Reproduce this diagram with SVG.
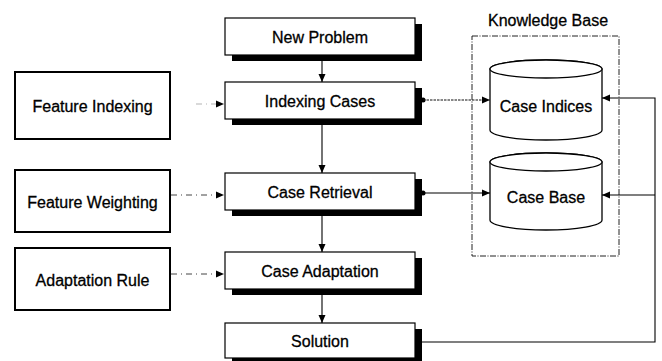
<svg xmlns="http://www.w3.org/2000/svg" width="662" height="361" viewBox="0 0 662 361">
<defs>
<marker id="ah" viewBox="0 0 8 8" refX="8" refY="4" markerWidth="8" markerHeight="8" markerUnits="userSpaceOnUse" orient="auto">
<path d="M0,0.5 L8,4 L0,7.5 Z" fill="#000"/>
</marker>
<style>
text{font-family:"Liberation Sans",Arial,sans-serif;font-size:16px;fill:#000;stroke:#000;stroke-width:0.3;text-anchor:middle}
.box{fill:#fff;stroke:#000;stroke-width:1.2}
.shadow{fill:#000}
.side{fill:#fff;stroke:#000;stroke-width:2}
.cyl{fill:#fff;stroke:#000;stroke-width:1.3}
.ln{fill:none;stroke:#000;stroke-width:1.1}
.dd{fill:none;stroke:#444;stroke-width:1;stroke-dasharray:6 4 1 4}
.dot{fill:none;stroke:#111;stroke-width:1.1;stroke-dasharray:2.5 1}
.kb{fill:none;stroke:#222;stroke-width:1;stroke-dasharray:6 1.5 1 1.5}
</style>
</defs>

<g id="knowledge-base">
<rect class="kb" x="472" y="36" width="147" height="220"/>
<text x="548" y="26">Knowledge Base</text>
</g>

<g id="new-problem">
<rect class="shadow" x="232" y="24" width="190" height="37"/>
<rect class="box" x="225" y="18" width="190" height="37"/>
<text x="320" y="42.5">New Problem</text>
</g>
<g id="indexing-cases">
<rect class="shadow" x="232" y="88" width="190" height="37"/>
<rect class="box" x="225" y="82" width="190" height="37"/>
<text x="320" y="106.5">Indexing Cases</text>
</g>
<g id="case-retrieval">
<rect class="shadow" x="232" y="179" width="190" height="37"/>
<rect class="box" x="225" y="173" width="190" height="37"/>
<text x="320" y="198">Case Retrieval</text>
</g>
<g id="case-adaptation">
<rect class="shadow" x="232" y="258" width="190" height="37"/>
<rect class="box" x="225" y="252" width="190" height="37"/>
<text x="320" y="276.5">Case Adaptation</text>
</g>
<g id="solution">
<rect class="shadow" x="232" y="329" width="190" height="35"/>
<rect class="box" x="225" y="323" width="190" height="35"/>
<text x="320" y="346.5">Solution</text>
</g>

<g id="feature-indexing">
<rect class="side" x="15" y="72" width="155" height="67"/>
<text x="92.5" y="111.5">Feature Indexing</text>
</g>
<g id="feature-weighting">
<rect class="side" x="15" y="170" width="155" height="62"/>
<text x="92.5" y="207.5">Feature Weighting</text>
</g>
<g id="adaptation-rule">
<rect class="side" x="15" y="248" width="155" height="62"/>
<text x="92.5" y="286">Adaptation Rule</text>
</g>

<g id="case-indices">
<path class="cyl" d="M490,69 L490,130 A56,10 0 0 0 602,130 L602,69 A56,9 0 0 0 490,69 Z"/>
<ellipse class="cyl" cx="546" cy="69" rx="56" ry="9"/>
<text x="546" y="112">Case Indices</text>
</g>
<g id="case-base">
<path class="cyl" d="M490,162 L490,220 A56,10 0 0 0 602,220 L602,162 A56,9 0 0 0 490,162 Z"/>
<ellipse class="cyl" cx="546" cy="162" rx="56" ry="9"/>
<text x="546" y="203">Case Base</text>
</g>

<g id="connectors">
<line class="ln" x1="322" y1="61" x2="322" y2="82" marker-end="url(#ah)"/>
<line class="ln" x1="322" y1="125" x2="322" y2="173" marker-end="url(#ah)"/>
<line class="ln" x1="322" y1="216" x2="322" y2="252" marker-end="url(#ah)"/>
<line class="ln" x1="322" y1="295" x2="322" y2="323" marker-end="url(#ah)"/>

<line class="dd" x1="196" y1="104" x2="224" y2="104" stroke-opacity="0.4" marker-end="url(#ah)"/>
<line class="dd" x1="171" y1="195" x2="224" y2="195" marker-end="url(#ah)"/>
<line class="dd" x1="171" y1="274" x2="224" y2="274" marker-end="url(#ah)"/>

<circle cx="423" cy="100" r="2.5" fill="#000"/>
<line class="dot" x1="423" y1="100" x2="490" y2="100" marker-end="url(#ah)"/>
<circle cx="423" cy="193" r="2.5" fill="#000"/>
<line class="ln" x1="423" y1="193" x2="490" y2="193" marker-end="url(#ah)"/>

<polyline class="ln" points="422,342 655,342 655,98 602,98" marker-end="url(#ah)"/>
<line class="ln" x1="655" y1="195" x2="602" y2="195" marker-end="url(#ah)"/>
</g>
</svg>
